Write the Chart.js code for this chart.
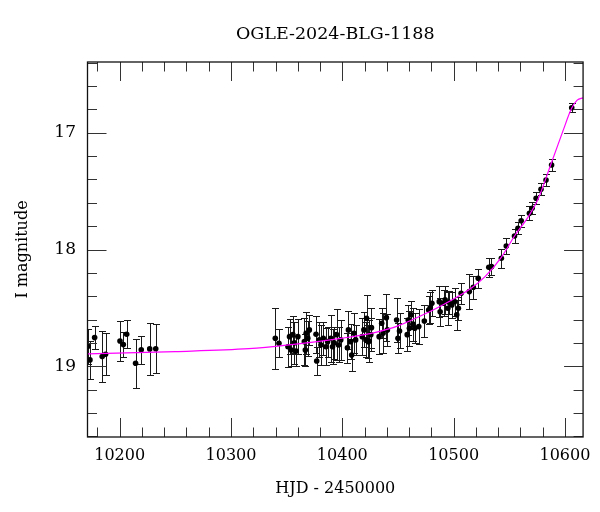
<!DOCTYPE html>
<html>
<head>
<meta charset="utf-8">
<script src="https://cdn.jsdelivr.net/npm/chart.js@4/dist/chart.umd.min.js"></script>
<style>
  html, body { margin: 0; padding: 0; background: #fff; }
</style>
</head>
<body>
<canvas id="lightCurve" width="600" height="512"></canvas>
<script>
// OGLE photometry (HJD - 2450000, I mag, error)
const hjd = [
  10171.5, 10173.3, 10177.5, 10184.3, 10187.3, 10200.3, 10203.3, 10206.3, 10214.3, 10219.4, 10227.0, 10232.4,
  10339.8, 10343.1, 10351.2, 10352.6, 10354.1, 10355.6, 10357.0, 10358.5, 10360.1, 10365.9, 10366.8, 10367.5,
  10369.0, 10370.4, 10376.4, 10377.0, 10379.3, 10380.8, 10382.9, 10385.3, 10386.8, 10389.7, 10391.2, 10392.7,
  10394.8, 10396.6, 10398.6, 10404.6, 10405.5, 10407.5, 10408.4, 10410.5, 10412.0, 10417.9, 10419.4, 10421.2,
  10421.8, 10423.3, 10424.2, 10425.6, 10426.2, 10433.1, 10435.4, 10436.6, 10439.6, 10440.5, 10448.8, 10450.0,
  10451.4, 10458.3, 10459.2, 10460.3, 10461.8, 10463.4, 10465.1, 10468.7, 10473.7, 10477.6, 10479.0, 10480.5,
  10487.1, 10487.9, 10491.0, 10492.4, 10494.8, 10496.0, 10498.4, 10500.8, 10502.8, 10504.3, 10506.7, 10514.1,
  10517.7, 10522.1, 10531.6, 10534.0, 10542.9, 10547.3, 10554.7, 10557.8, 10560.7, 10568.1, 10570.5, 10574.1,
  10578.5, 10583.0, 10588.0, 10606.1
];
const mag = [
  18.83, 18.946, 18.755, 18.918, 18.898, 18.784, 18.815, 18.727, 18.975, 18.86, 18.852, 18.85,
  18.761, 18.804, 18.833, 18.747, 18.861, 18.73, 18.80, 18.87, 18.747, 18.79, 18.861, 18.718,
  18.76, 18.689, 18.726, 18.955, 18.775, 18.818, 18.761, 18.833, 18.79, 18.761, 18.833, 18.80,
  18.73, 18.818, 18.775, 18.842, 18.689, 18.79, 18.904, 18.718, 18.775, 18.747, 18.689, 18.775,
  18.59, 18.79, 18.784, 18.73, 18.67, 18.747, 18.632, 18.718, 18.584, 18.689, 18.604, 18.761,
  18.698, 18.73, 18.604, 18.675, 18.56, 18.64, 18.675, 18.661, 18.613, 18.518, 18.498, 18.461,
  18.447, 18.533, 18.461, 18.432, 18.504, 18.452, 18.475, 18.447, 18.56, 18.504, 18.375, 18.361,
  18.323, 18.246, 18.152, 18.147, 18.075, 17.97, 17.884, 17.818, 17.753, 17.69, 17.647, 17.561,
  17.484, 17.404, 17.276, 16.785
];
const magErr = [
  0.15, 0.16, 0.10, 0.22, 0.18, 0.17, 0.11, 0.12, 0.21, 0.12, 0.22, 0.21,
  0.26, 0.12, 0.17, 0.15, 0.14, 0.16, 0.18, 0.13, 0.15, 0.20, 0.14, 0.18,
  0.15, 0.13, 0.16, 0.12, 0.15, 0.17, 0.14, 0.16, 0.13, 0.20, 0.15, 0.14,
  0.22, 0.15, 0.17, 0.13, 0.16, 0.15, 0.14, 0.17, 0.13, 0.16, 0.15, 0.15,
  0.20, 0.14, 0.18, 0.14, 0.17, 0.15, 0.13, 0.17, 0.20, 0.14, 0.19, 0.13,
  0.15, 0.14, 0.13, 0.15, 0.12, 0.14, 0.13, 0.15, 0.14, 0.12, 0.13, 0.11,
  0.13, 0.12, 0.11, 0.12, 0.14, 0.10, 0.11, 0.12, 0.13, 0.10, 0.09, 0.15,
  0.10, 0.08, 0.08, 0.07, 0.08, 0.07, 0.06, 0.05, 0.05, 0.06, 0.05, 0.05,
  0.05, 0.05, 0.05, 0.04
];

// fitted model
const modelHjd = [10171, 10250, 10316, 10350, 10400, 10430, 10450, 10478, 10498, 10516,
                  10528, 10543, 10555, 10567, 10576, 10587, 10598, 10606, 10611, 10616.3];
const modelMag = [18.895, 18.875, 18.85, 18.82, 18.76, 18.71, 18.655, 18.535, 18.435, 18.33,
                  18.235, 18.065, 17.88, 17.72, 17.565, 17.28, 16.99, 16.79, 16.72, 16.70];

const xTicks = [10200, 10300, 10400, 10500, 10600];
const yTicks = [17, 18, 19];
const xMinor = 20;
const yMinor = 0.2;

const serif = 'DejaVu Serif';

// error bars under the points, frame + inward ticks on top
const lcDecor = {
    id: 'lcDecor',
    beforeDatasetsDraw(chart) {
        const { ctx, chartArea: a, scales: { x, y } } = chart;
        ctx.save();
        ctx.beginPath();
        ctx.rect(a.left, a.top, a.right - a.left, a.bottom - a.top);
        ctx.clip();
        ctx.strokeStyle = '#1a1a1a';
        ctx.lineWidth = 1;
        hjd.forEach((t, i) => {
            const px = Math.round(x.getPixelForValue(t)) + 0.5;
            const y1 = Math.round(y.getPixelForValue(mag[i] - magErr[i])) + 0.5;
            const y2 = Math.round(y.getPixelForValue(mag[i] + magErr[i])) + 0.5;
            ctx.beginPath();
            ctx.moveTo(px, y1); ctx.lineTo(px, y2);
            ctx.moveTo(px - 3.5, y1); ctx.lineTo(px + 3.5, y1);
            ctx.moveTo(px - 3.5, y2); ctx.lineTo(px + 3.5, y2);
            ctx.stroke();
        });
        ctx.restore();
    },
    afterDraw(chart) {
        const { ctx, chartArea: a, scales: { x, y } } = chart;
        ctx.save();
        ctx.strokeStyle = '#333';
        ctx.lineWidth = 1;
        ctx.beginPath();
        // x ticks, bottom and top
        for (let v = Math.ceil(x.min / xMinor) * xMinor; v <= x.max; v += xMinor) {
            const len = xTicks.includes(v) ? 19 : 9.5;
            const px = Math.round(x.getPixelForValue(v)) + 0.5;
            ctx.moveTo(px, a.bottom); ctx.lineTo(px, a.bottom - len);
            ctx.moveTo(px, a.top); ctx.lineTo(px, a.top + len);
        }
        // y ticks, left and right
        for (let k = Math.ceil(y.min / yMinor); k * yMinor <= y.max; k++) {
            const v = +(k * yMinor).toFixed(1);
            const len = yTicks.includes(v) ? 19 : 9.5;
            const py = Math.round(y.getPixelForValue(v)) + 0.5;
            ctx.moveTo(a.left, py); ctx.lineTo(a.left + len, py);
            ctx.moveTo(a.right, py); ctx.lineTo(a.right - len, py);
        }
        ctx.stroke();
        ctx.strokeStyle = '#111';
        ctx.lineWidth = 1.3;
        ctx.strokeRect(a.left, a.top, a.right - a.left, a.bottom - a.top);
        ctx.restore();
    }
};

new Chart(document.getElementById('lightCurve'), {
    type: 'scatter',
    data: {
        datasets: [
            {
                data: modelHjd.map((t, i) => ({ x: t, y: modelMag[i] })),
                showLine: true,
                borderColor: '#ff00ff',
                borderWidth: 1.2,
                pointRadius: 0,
                cubicInterpolationMode: 'monotone'
            },
            {
                data: hjd.map((t, i) => ({ x: t, y: mag[i] })),
                backgroundColor: '#000',
                borderColor: '#000',
                borderWidth: 0,
                pointRadius: 2.8
            }
        ]
    },
    options: {
        responsive: false,
        animation: false,
        layout: { padding: { left: 0, right: 12.5, top: 0, bottom: 0 } },
        plugins: {
            legend: { display: false },
            tooltip: { enabled: false },
            title: {
                display: true,
                fullSize: false,
                text: 'OGLE-2024-BLG-1188',
                color: '#000',
                font: { family: serif, size: 17.5, weight: 'normal' },
                padding: { top: 24, bottom: 17 }
            }
        },
        scales: {
            x: {
                type: 'linear',
                min: 10171.1,
                max: 10616.3,
                grid: { display: false, drawTicks: false },
                border: { display: false },
                afterBuildTicks: s => { s.ticks = xTicks.map(v => ({ value: v })); },
                afterFit: s => { s.height = 75; },
                ticks: {
                    color: '#000',
                    font: { family: serif, size: 16 },
                    padding: 9,
                    maxRotation: 0,
                    autoSkip: false,
                    callback: v => String(v)
                },
                title: {
                    display: true,
                    text: 'HJD - 2450000',
                    color: '#000',
                    font: { family: serif, size: 16 },
                    padding: { top: 4, bottom: 14 }
                }
            },
            y: {
                type: 'linear',
                reverse: true,
                min: 16.393,
                max: 19.607,
                grid: { display: false, drawTicks: false },
                border: { display: false },
                afterBuildTicks: s => { s.ticks = yTicks.map(v => ({ value: v })); },
                afterFit: s => { s.width = 87.5; },
                ticks: {
                    color: '#000',
                    font: { family: serif, size: 17 },
                    padding: 11.5,
                    autoSkip: false,
                    callback: v => String(v)
                },
                title: {
                    display: true,
                    text: 'I magnitude',
                    color: '#000',
                    font: { family: serif, size: 16 },
                    padding: { top: 13, bottom: 4 }
                }
            }
        }
    },
    plugins: [lcDecor]
});
</script>
</body>
</html>
